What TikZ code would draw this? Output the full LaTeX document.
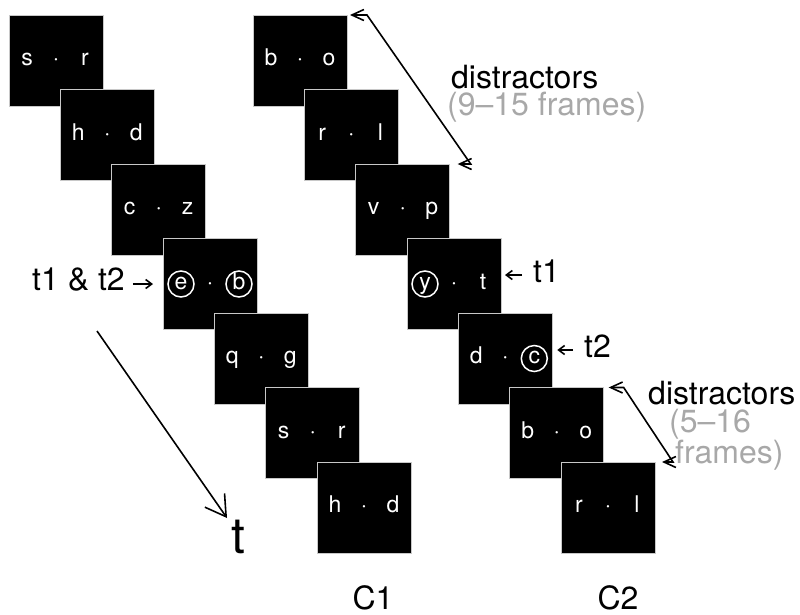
\documentclass[tikz,border=0pt]{standalone}
\usepackage{fontspec}
\setmainfont{TeX Gyre Heros}
\usetikzlibrary{arrows.meta}

\definecolor{note}{RGB}{168,168,168}
\definecolor{rim}{RGB}{200,200,200}

\tikzset{
  stimbox/.style={draw=rim, line width=1pt, fill=black,
    minimum width=94pt, minimum height=91pt, inner sep=0pt, outer sep=0pt},
  glyph/.style={text=white, font=\fontsize{23}{23}\selectfont,
    anchor=base, inner sep=0pt},
  ring/.style={draw=white, line width=1.5pt, circle,
    minimum size=26pt, inner sep=0pt},
  lbl/.style={font=\fontsize{32}{32}\selectfont, inner sep=0pt},
  graylbl/.style={lbl, text=note},
  timearrow/.style={line width=1.6pt,
    -{Straight Barb[length=20pt,width=24pt,line width=1.6pt]}},
  span/.style={line width=1.6pt, line join=miter,
    {Straight Barb[length=12pt,width=11pt,line width=1.6pt]}-{Straight Barb[length=12pt,width=11pt,line width=1.6pt]}},
  pointer/.style={line width=1.6pt,
    -{Straight Barb[length=6pt,width=9pt,line width=1.6pt]}},
}

% one stimulus frame: name, centre x, centre y, left letter, right letter
\newcommand\stim[5]{%
  \node[stimbox] (#1) at (#2,#3) {};
  \path (#1.center) ++(-29,5) node[glyph] (#1-l) {#4}
        (#1.center) ++(0,5)   node[glyph] (#1-d) {·}
        (#1.center) ++(29,5)  node[glyph] (#1-r) {#5};
}

\begin{document}
\begin{tikzpicture}[x=1pt,y=-1pt]
\useasboundingbox (0,0) rectangle (800,614);

% condition C1
\stim{L1}{56}{60.5}{s}{r}
\stim{L2}{107.3}{135}{h}{d}
\stim{L3}{158.7}{209.5}{c}{z}
\stim{L4}{210}{284}{e}{b}
\node[ring] (L4-lc) at ([xshift=-29pt]L4.center) {};
\node[ring] (L4-rc) at ([xshift=29pt]L4.center) {};
\stim{L5}{261.3}{358.5}{q}{g}
\stim{L6}{312.7}{433}{s}{r}
\stim{L7}{364}{507.5}{h}{d}

% condition C2
\stim{R1}{300}{60.5}{b}{o}
\stim{R2}{351.3}{135}{r}{l}
\stim{R3}{402.7}{209.5}{v}{p}
\stim{R4}{454}{284}{y}{t}
\node[ring] (R4-lc) at ([xshift=-29pt]R4.center) {};
\stim{R5}{505.3}{358.5}{d}{c}
\node[ring] (R5-rc) at ([xshift=29pt]R5.center) {};
\stim{R6}{556.7}{433}{b}{o}
\stim{R7}{608}{507.5}{r}{l}

% target markers
\node[lbl, anchor=base west] (both) at (32,290) {t1 \& t2};
\draw[pointer, shorten <=8pt, shorten >=10pt] (both.east |- L4.west) -- (L4.west);

\node[lbl, anchor=base west] (tone) at (533,282) {t1};
\coordinate (tonetail) at (522,275);
\draw[pointer, shorten >=4pt] (tonetail) -- (tonetail -| R4.east);

\node[lbl, anchor=base west] (ttwo) at (584,357) {t2};
\coordinate (ttwotail) at (573,350);
\draw[pointer, shorten >=5pt] (ttwotail) -- (ttwotail -| R5.east);

% distractor spans
\coordinate (sa1) at ([xshift=3pt]R1.north east);
\coordinate (sa2) at ([xshift=20pt]R1.north east);
\coordinate (sa3) at ([xshift=21pt]R3.north east);
\coordinate (sa4) at ([xshift=8pt]R3.north east);
\draw[span] (sa1) -- (sa2) -- (sa3) -- (sa4);
\node[lbl, anchor=base west] (dA) at (451,88) {distractors};
\node[graylbl, anchor=base west] (dAn) at (447,115) {(9–15 frames)};

\coordinate (sb1) at ([xshift=5pt]R6.north east);
\coordinate (sb2) at ([xshift=20pt]R6.north east);
\coordinate (sb3) at ([xshift=18pt]R7.north east);
\coordinate (sb4) at ([xshift=7pt]R7.north east);
\draw[span] (sb1) -- (sb2) -- (sb3) -- (sb4);
\node[lbl, anchor=base west] (dB) at (648,404) {distractors};
\node[graylbl, anchor=base west] (dBn) at (669,432) {(5–16};
\node[graylbl, anchor=base west] (dBf) at (675,463) {frames)};

% time axis
\coordinate (tstart) at (97,331);
\coordinate (tend) at (227,518);
\draw[timearrow] (tstart) -- (tend);
\node[font=\fontsize{50}{50}\selectfont, inner sep=0pt, anchor=base] (tax) at (238,553) {t};

% condition labels
\node[lbl, anchor=base] (c1) at (373,609) {C1};
\node[lbl, anchor=base] (c2) at (618,609) {C2};
\end{tikzpicture}
\end{document}
